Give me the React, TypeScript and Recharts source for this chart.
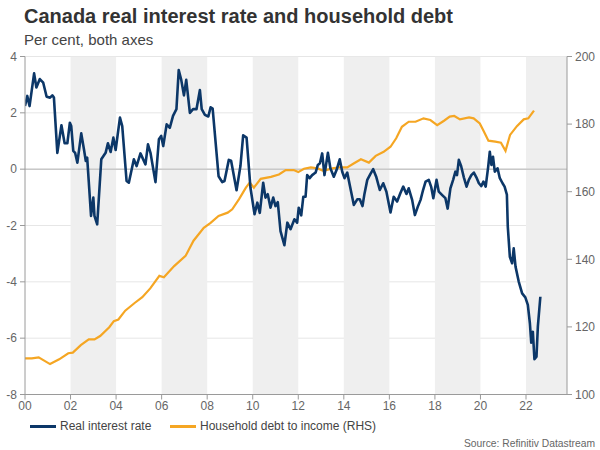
import React from 'react';
import { ComposedChart, Line, XAxis, YAxis, CartesianGrid, ReferenceArea, ReferenceLine } from 'recharts';

const rateDates = [
  2000.0, 2000.1, 2000.2, 2000.4, 2000.5, 2000.65, 2000.8, 2000.95, 2001.1, 2001.2, 2001.27, 2001.42,
  2001.6, 2001.74, 2001.86, 2001.97, 2002.03, 2002.12, 2002.2, 2002.3, 2002.47, 2002.59, 2002.67, 2002.73,
  2002.9, 2003.0, 2003.05, 2003.17, 2003.35, 2003.54, 2003.64, 2003.76, 2003.88, 2003.98, 2004.17, 2004.27,
  2004.46, 2004.56, 2004.78, 2004.9, 2005.07, 2005.29, 2005.4, 2005.51, 2005.73, 2005.88, 2005.98, 2006.07,
  2006.22, 2006.36, 2006.5, 2006.65, 2006.75, 2006.86, 2006.98, 2007.08, 2007.24, 2007.38, 2007.53, 2007.68,
  2007.76, 2007.9, 2008.05, 2008.15, 2008.24, 2008.5, 2008.66, 2008.76, 2008.95, 2009.05, 2009.29, 2009.46,
  2009.58, 2009.73, 2009.9, 2010.08, 2010.2, 2010.31, 2010.46, 2010.56, 2010.66, 2010.78, 2010.9, 2011.0,
  2011.1, 2011.22, 2011.39, 2011.52, 2011.66, 2011.83, 2011.95, 2012.02, 2012.13, 2012.22, 2012.32, 2012.39,
  2012.5, 2012.61, 2012.76, 2012.86, 2012.95, 2013.05, 2013.15, 2013.3, 2013.41, 2013.56, 2013.68, 2013.82,
  2013.93, 2014.03, 2014.15, 2014.26, 2014.44, 2014.59, 2014.7, 2014.82, 2014.91, 2015.03, 2015.17, 2015.29,
  2015.43, 2015.58, 2015.73, 2015.87, 2016.05, 2016.19, 2016.34, 2016.49, 2016.61, 2016.75, 2016.85, 2017.0,
  2017.12, 2017.25, 2017.37, 2017.48, 2017.59, 2017.73, 2017.84, 2017.93, 2018.07, 2018.17, 2018.32, 2018.46,
  2018.56, 2018.68, 2018.8, 2018.9, 2018.97, 2019.05, 2019.15, 2019.27, 2019.39, 2019.49, 2019.6, 2019.71,
  2019.82, 2019.93, 2020.04, 2020.13, 2020.23, 2020.34, 2020.41, 2020.48, 2020.55, 2020.63, 2020.75, 2020.85,
  2020.97, 2021.06, 2021.16, 2021.2, 2021.29, 2021.39, 2021.46, 2021.54, 2021.68, 2021.83, 2021.97, 2022.08,
  2022.17, 2022.23, 2022.3, 2022.37, 2022.46, 2022.52, 2022.63,
];
const rateValues = [
  2.24, 2.6, 2.24, 3.4, 2.9, 3.2, 3.07, 2.57, 2.54, 2.62, 2.54, 0.58,
  1.56, 0.92, 0.92, 1.65, 1.53, 0.65, 0.58, 0.23, 1.27, 0.7, 0.29, 0.41,
  -1.66, -1.01, -1.66, -1.96, 0.35, 0.58, 0.92, 0.61, 1.12, 0.68, 1.83, 1.53,
  -0.42, -0.48, 0.35, 0.11, 0.56, 0.17, 0.88, 0.58, -0.46, 1.06, 1.18, 0.82,
  1.59, 1.47, 1.89, 2.13, 3.52, 3.17, 2.62, 3.17, 2.0, 2.13, 2.13, 2.81,
  2.13, 1.93, 1.87, 2.2, 2.15, -0.25, -0.46, -0.42, 0.33, 0.3, -0.75, 0.11,
  1.2, 1.12, -0.66, -1.6, -1.19, -1.55, -0.48, -1.01, -0.89, -1.37, -1.01, -1.31,
  -1.17, -2.2, -2.7, -1.9, -2.13, -1.78, -1.9, -1.37, -1.64, -0.98, -0.98, -0.21,
  -0.32, -0.21, -0.12, 0.15, 0.21, 0.56, -0.21, 0.58, 0.03, -0.27, -0.03, 0.35,
  -0.09, -0.32, -0.12, -0.56, -1.27, -1.07, -1.07, -1.31, -0.86, -0.38, -0.17, 0.0,
  -0.29, -0.74, -0.5, -0.8, -1.54, -0.98, -1.15, -0.84, -0.62, -0.88, -0.68, -1.09,
  -1.63, -1.33, -1.09, -0.74, -0.44, -0.38, -0.64, -1.03, -0.38, -0.8, -0.92, -1.03,
  -1.4, -0.68, -0.38, -0.09, -0.21, 0.33, 0.11, -0.29, -0.62, -0.38, -0.21, -0.12,
  -0.29, -0.5, -0.6, -0.44, -0.62, 0.09, 0.62, 0.15, 0.44, -0.09, 0.03, -0.32,
  -0.5, -0.62, -0.9, -2.04, -3.11, -3.34, -2.81, -3.46, -3.99, -4.41, -4.55, -4.82,
  -5.47, -6.16, -5.77, -6.75, -6.66, -5.59, -4.53,
];

const debtDates = [
  2000.0, 2000.3, 2000.6, 2001.1, 2001.5, 2001.9, 2002.1, 2002.45, 2002.8, 2003.05, 2003.3, 2003.7,
  2003.9, 2004.1, 2004.4, 2004.8, 2005.15, 2005.5, 2005.9, 2006.1, 2006.55, 2007.05, 2007.4, 2007.85,
  2008.15, 2008.5, 2008.9, 2009.1, 2009.4, 2009.7, 2009.87, 2010.05, 2010.35, 2010.8, 2011.15, 2011.45,
  2011.8, 2012.0, 2012.25, 2012.55, 2012.85, 2013.1, 2013.5, 2013.8, 2014.15, 2014.45, 2014.75, 2015.1,
  2015.4, 2015.75, 2016.05, 2016.3, 2016.55, 2016.85, 2017.15, 2017.5, 2017.8, 2018.1, 2018.4, 2018.65,
  2018.85, 2019.1, 2019.5, 2019.7, 2019.97, 2020.15, 2020.35, 2020.65, 2020.9, 2021.1, 2021.3, 2021.6,
  2021.9, 2022.1, 2022.35,
];
const debtValues = [
  110.7, 110.7, 111.0, 109.0, 110.4, 112.2, 112.4, 114.6, 116.3, 116.3, 117.3, 119.9,
  121.7, 122.2, 124.8, 127.0, 128.8, 131.4, 135.1, 134.7, 138.0, 141.0, 145.5, 149.3,
  150.8, 152.8, 153.8, 154.8, 157.8, 161.2, 162.7, 161.2, 163.8, 164.4, 165.1, 166.4,
  166.4, 165.8, 166.8, 167.2, 166.9, 166.2, 166.9, 167.2, 167.2, 168.4, 169.6, 168.6,
  170.6, 171.8, 173.3, 175.8, 179.2, 180.7, 180.7, 181.7, 181.2, 179.7, 181.0, 182.2,
  182.4, 181.4, 182.0, 181.7, 180.2, 177.8, 175.1, 174.8, 174.5, 172.1, 176.8, 179.4,
  181.4, 181.7, 184.0,
];

const xTicks = [2000, 2002, 2004, 2006, 2008, 2010, 2012, 2014, 2016, 2018, 2020, 2022];
const leftTicks = [-8, -6, -4, -2, 0, 2, 4];
const rightTicks = [100, 120, 140, 160, 180, 200];
const shadedStarts = [2002, 2006, 2010, 2014, 2018, 2022];
const shadedEnds = [2004, 2008, 2012, 2016, 2020, 2023.8];

const rateData = rateDates.map((x, i) => ({ x, rate: rateValues[i] }));
const debtData = debtDates.map((x, i) => ({ x, debt: debtValues[i] }));

const FONT = '"Liberation Sans", Arial, Helvetica, sans-serif';
const BLUE = '#0c3768';
const ORANGE = '#f5a623';
const AXIS = '#9a9a9a';
const tickStyle = { fill: '#666', fontSize: 12, fontFamily: FONT };

export default function App() {
  return (
    <div style={{ position: 'absolute', left: 0, top: 0, width: 600, height: 450, background: '#fff', fontFamily: FONT }}>
      <div style={{ position: 'absolute', left: 24, top: 5.8, fontSize: 20, lineHeight: '20px', fontWeight: 'bold', color: '#333', whiteSpace: 'nowrap' }}>
        Canada real interest rate and household debt
      </div>
      <div style={{ position: 'absolute', left: 24, top: 32.3, fontSize: 15, lineHeight: '15px', color: '#444', whiteSpace: 'nowrap' }}>
        Per cent, both axes
      </div>
      <div style={{ position: 'absolute', left: 0, top: 0 }}>
        <ComposedChart width={600} height={450} margin={{ top: 56.5, right: 0, bottom: 35.5, left: 5 }}>
          {shadedStarts.map((s, i) => (
            <ReferenceArea key={s} yAxisId="left" x1={s} x2={shadedEnds[i]} y1={-8} y2={4} fill="#efefef" fillOpacity={1} stroke="none" ifOverflow="hidden" />
          ))}
          <CartesianGrid yAxisId="left" vertical={false} stroke="#e6e6e6" />
          <XAxis
            dataKey="x"
            type="number"
            domain={[2000, 2023.8]}
            ticks={xTicks}
            allowDataOverflow
            height={20}
            stroke={AXIS}
            tickSize={5}
            tickMargin={2}
            tick={tickStyle}
            tickFormatter={(v: number) => String(v % 100).padStart(2, '0')}
          />
          <YAxis
            yAxisId="left"
            domain={[-8, 4]}
            ticks={leftTicks}
            width={20}
            stroke={AXIS}
            tickSize={5}
            tickMargin={3}
            tick={tickStyle}
            allowDataOverflow
          />
          <YAxis
            yAxisId="right"
            orientation="right"
            domain={[100, 200]}
            ticks={rightTicks}
            width={33}
            stroke={AXIS}
            tickSize={5}
            tickMargin={3}
            tick={tickStyle}
            allowDataOverflow
          />
          <ReferenceLine yAxisId="left" y={0} stroke="#b5b5b5" strokeWidth={1} />
          <Line
            yAxisId="right"
            data={debtData}
            dataKey="debt"
            type="linear"
            stroke={ORANGE}
            strokeWidth={2.2}
            dot={false}
            activeDot={false}
            isAnimationActive={false}
          />
          <Line
            yAxisId="left"
            data={rateData}
            dataKey="rate"
            type="linear"
            stroke={BLUE}
            strokeWidth={2.6}
            strokeLinejoin="round"
            dot={false}
            activeDot={false}
            isAnimationActive={false}
          />
        </ComposedChart>
      </div>
      <div style={{ position: 'absolute', left: 30, top: 425, width: 26, height: 3, background: BLUE }} />
      <div style={{ position: 'absolute', left: 60, top: 419.8, fontSize: 12, lineHeight: '12px', color: '#444', whiteSpace: 'nowrap' }}>
        Real interest rate
      </div>
      <div style={{ position: 'absolute', left: 170, top: 425, width: 26, height: 3, background: ORANGE }} />
      <div style={{ position: 'absolute', left: 200, top: 419.8, fontSize: 12, lineHeight: '12px', color: '#444', whiteSpace: 'nowrap' }}>
        Household debt to income (RHS)
      </div>
      <div style={{ position: 'absolute', right: 5, top: 439, fontSize: 10.3, lineHeight: '10.3px', color: '#666', whiteSpace: 'nowrap' }}>
        Source: Refinitiv Datastream
      </div>
    </div>
  );
}
